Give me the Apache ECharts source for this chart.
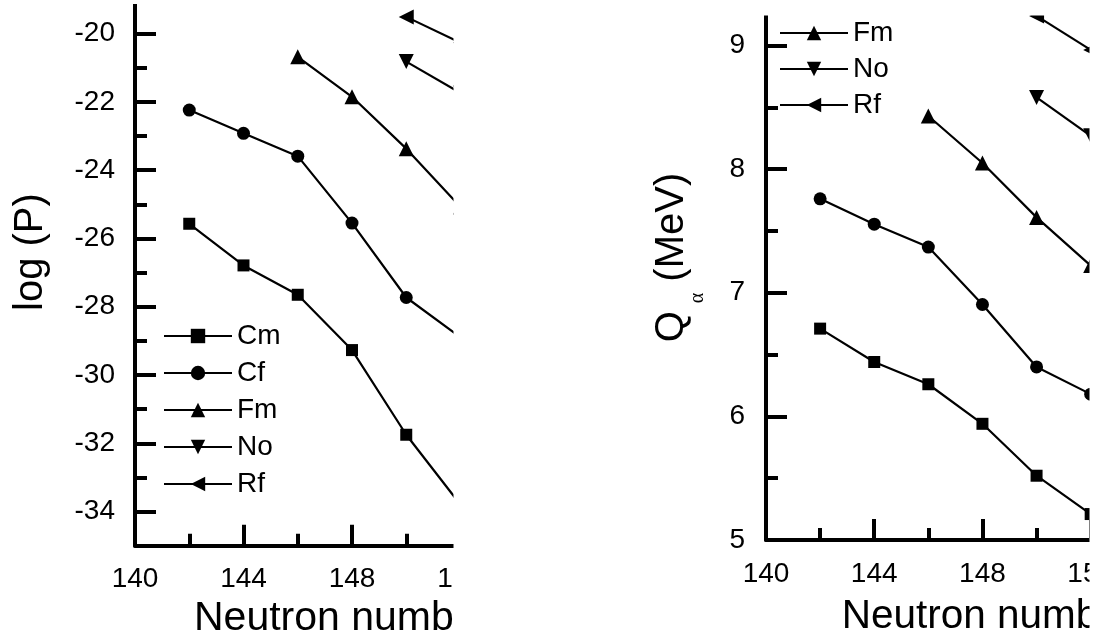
<!DOCTYPE html>
<html>
<head>
<meta charset="utf-8">
<script src="https://cdn.jsdelivr.net/npm/echarts@6/dist/echarts.min.js"></script>
<style>
html,body{margin:0;padding:0;background:#fff;}
#chart{width:1097px;height:642px;}
</style>
</head>
<body>
<div id="chart"></div>
<script>
// ---- data ----
const xCmCf = [142, 144, 146, 148, 150, 152];
const xFm = [146, 148, 150, 152];
const xNoRf = [150, 152];

const logP_Cm = [-25.57, -26.79, -27.65, -29.27, -31.75, -33.8];
const logP_Cf = [-22.24, -22.92, -23.59, -25.55, -27.73, -28.9];
const logP_Fm = [-20.68, -21.85, -23.37, -25.08];
const logP_No = [-20.82, -21.74];
const logP_Rf = [-19.51, -20.27];

const Q_Cm = [6.71, 6.44, 6.26, 5.94, 5.52, 5.21];
const Q_Cf = [7.76, 7.555, 7.37, 6.905, 6.40, 6.18];
const Q_Fm = [8.43, 8.05, 7.61, 7.22];
const Q_No = [8.58, 8.27];
const Q_Rf = [9.24, 8.965];

const logPMajorTicks = [-34, -32, -30, -28, -26, -24, -22, -20];
const logPMinorTicks = [-33, -31, -29, -27, -25, -23, -21, -19];
const elements = ['Cm', 'Cf', 'Fm', 'No', 'Rf'];
const rightLegend = ['Fm', 'No', 'Rf'];

// ---- styling ----
const FONT = "'Liberation Sans', Arial, Helvetica, sans-serif";
const symbols = {
  Cm: {symbol: 'rect', rotate: 0, size: 12},
  Cf: {symbol: 'circle', rotate: 0, size: 13},
  Fm: {symbol: 'triangle', rotate: 0, size: 15},
  No: {symbol: 'triangle', rotate: 180, size: 15},
  Rf: {symbol: 'triangle', rotate: 90, size: 15}
};
function zip(xs, ys) { return xs.map((x, i) => [x, ys[i]]); }
function mkSeries(name, xs, ys, xi, yi) {
  return {
    name: name, type: 'line', xAxisIndex: xi, yAxisIndex: yi,
    data: zip(xs, ys),
    symbol: symbols[name].symbol, symbolRotate: symbols[name].rotate,
    symbolSize: symbols[name].size,
    lineStyle: {color: '#000', width: 2.2},
    itemStyle: {color: '#000'},
    clip: true, animation: false
  };
}
const axisLineStyle = {show: true, onZero: false, lineStyle: {color: '#000', width: 4}};
const majorTick = {show: true, inside: true, length: 21, lineStyle: {color: '#000', width: 4}};
const minorTick = {show: true, splitNumber: 2, length: 12, lineStyle: {color: '#000', width: 4}};
const legendText = {fontFamily: FONT, fontSize: 28, color: '#000'};

const chart = echarts.init(document.getElementById('chart'), null, {renderer: 'canvas'});
chart.setOption({
  animation: false,
  backgroundColor: '#fff',
  textStyle: {fontFamily: FONT, color: '#000'},
  grid: [
    {left: 135, top: -41.5, width: 414.2, height: 587.2, containLabel: false, outerBoundsMode: 'none'},
    {left: 766, top: -24.9, width: 444, height: 564.9, containLabel: false, outerBoundsMode: 'none'}
  ],
  legend: [
    {
      data: elements, orient: 'vertical', left: 158, top: 317,
      itemWidth: 68, itemHeight: 18, itemGap: 9,
      textStyle: legendText, inactiveColor: '#000', selectedMode: false
    },
    {
      data: rightLegend, orient: 'vertical', left: 774, top: 14,
      itemWidth: 68, itemHeight: 18, itemGap: 8,
      textStyle: legendText, inactiveColor: '#000', selectedMode: false
    }
  ],
  xAxis: [
    {
      type: 'value', gridIndex: 0, min: 140, max: 155.27, interval: 4,
      name: 'Neutron number', nameLocation: 'middle', nameGap: 52,
      nameTextStyle: {fontFamily: FONT, fontSize: 41, color: '#000'},
      axisLine: axisLineStyle, axisTick: majorTick, minorTick: minorTick,
      axisLabel: {fontFamily: FONT, fontSize: 28, color: '#000', margin: 20, showMaxLabel: false},
      splitLine: {show: false}
    },
    {
      type: 'value', gridIndex: 1, min: 140, max: 156.41, interval: 4,
      name: 'Neutron number', nameLocation: 'middle', nameGap: 56,
      nameTextStyle: {fontFamily: FONT, fontSize: 40.5, color: '#000'},
      axisLine: axisLineStyle, axisTick: majorTick, minorTick: minorTick,
      axisLabel: {fontFamily: FONT, fontSize: 28, color: '#000', margin: 20, showMaxLabel: false},
      splitLine: {show: false}
    }
  ],
  yAxis: [
    {
      type: 'value', gridIndex: 0, min: -35, max: -17.8, position: 'left', offset: 0,
      name: 'log (P)', nameLocation: 'middle', nameGap: 84,
      nameTextStyle: {fontFamily: FONT, fontSize: 40, color: '#000'},
      axisLine: axisLineStyle,
      axisTick: Object.assign({}, majorTick, {customValues: logPMajorTicks}),
      axisLabel: {fontFamily: FONT, fontSize: 28, color: '#000', margin: 20, customValues: logPMajorTicks},
      splitLine: {show: false}
    },
    {
      type: 'value', gridIndex: 0, min: -35, max: -17.8, position: 'left', offset: 0,
      axisLine: {show: false},
      axisTick: {show: true, inside: true, length: 12, lineStyle: {color: '#000', width: 4}, customValues: logPMinorTicks},
      axisLabel: {show: false},
      splitLine: {show: false}
    },
    {
      type: 'value', gridIndex: 1, min: 5, max: 9.57, interval: 1, position: 'left', offset: 0,
      name: '{q|Q}{a|α}{t| (MeV)}', nameLocation: 'middle', nameGap: 74,
      nameTextStyle: {
        fontFamily: FONT, fontSize: 40, color: '#000',
        rich: {
          q: {fontFamily: FONT, fontSize: 40, lineHeight: 40, verticalAlign: 'top', color: '#000'},
          a: {fontFamily: "'Liberation Serif', 'DejaVu Serif', serif", fontSize: 20, lineHeight: 20, verticalAlign: 'top', padding: [36, 0, 0, 8], color: '#000'},
          t: {fontFamily: FONT, fontSize: 40, lineHeight: 40, verticalAlign: 'top', color: '#000'}
        }
      },
      axisLine: axisLineStyle, axisTick: majorTick, minorTick: minorTick,
      axisLabel: {fontFamily: FONT, fontSize: 28, color: '#000', margin: 21, showMaxLabel: false},
      splitLine: {show: false}
    }
  ],
  series: [
    mkSeries('Cm', xCmCf, logP_Cm, 0, 0),
    mkSeries('Cf', xCmCf, logP_Cf, 0, 0),
    mkSeries('Fm', xFm, logP_Fm, 0, 0),
    mkSeries('No', xNoRf, logP_No, 0, 0),
    mkSeries('Rf', xNoRf, logP_Rf, 0, 0),
    mkSeries('Cm', xCmCf, Q_Cm, 1, 2),
    mkSeries('Cf', xCmCf, Q_Cf, 1, 2),
    mkSeries('Fm', xFm, Q_Fm, 1, 2),
    mkSeries('No', xNoRf, Q_No, 1, 2),
    mkSeries('Rf', xNoRf, Q_Rf, 1, 2)
  ],
  graphic: {
    elements: [
      {type: 'rect', z: 100, shape: {x: 453.5, y: 0, width: 196.5, height: 642}, style: {fill: '#fff'}},
      {type: 'rect', z: 100, shape: {x: 0, y: 0, width: 454, height: 4}, style: {fill: '#fff'}},
      {type: 'rect', z: 100, shape: {x: 650, y: 0, width: 447, height: 15.5}, style: {fill: '#fff'}},
      {type: 'rect', z: 100, shape: {x: 1089.5, y: 0, width: 8, height: 642}, style: {fill: '#fff'}}
    ]
  }
});
</script>
</body>
</html>
